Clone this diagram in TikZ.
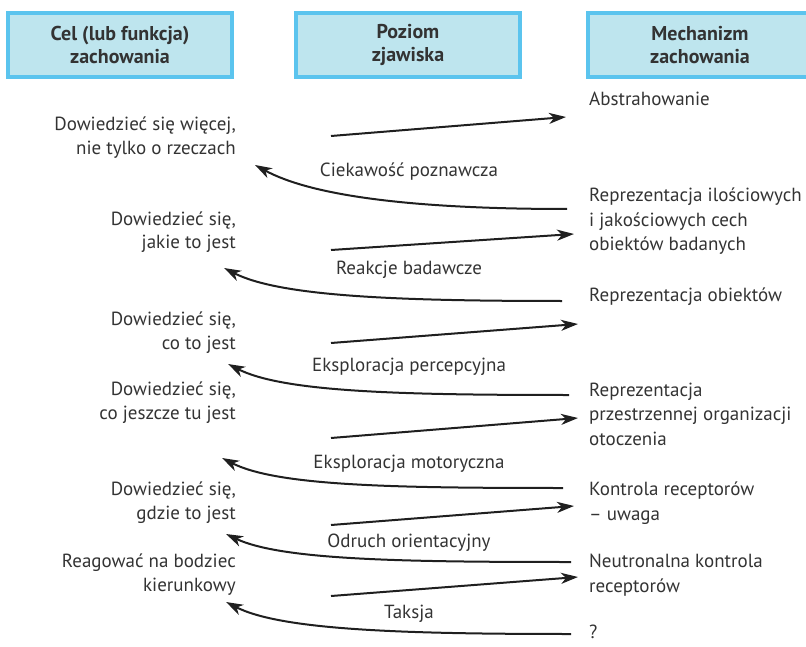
\documentclass[tikz,border=0pt]{standalone}
\usepackage{fontspec}
\setmainfont{PT Sans}
\usetikzlibrary{arrows.meta}
\definecolor{boxfill}{HTML}{BEE5EE}
\definecolor{boxline}{HTML}{5BC4EE}
\definecolor{ink}{HTML}{333333}
\tikzstyle{Header}=[minimum width=224, minimum height=64, fill=boxfill, line width=4.5, draw=boxline, align=center, text=ink, font=\fontsize{20}{23}\selectfont\bfseries]
\tikzstyle{Goal}=[anchor=base east, align=right, inner sep=0, text=ink, font=\fontsize{19}{24}\selectfont]
\tikzstyle{Mechanism}=[anchor=base west, align=left, inner sep=0, text=ink, font=\fontsize{19}{24.5}\selectfont]
\tikzstyle{Level}=[anchor=base, inner sep=0, text=ink, font=\fontsize{19}{24}\selectfont]
\tikzstyle{forward}=[-{Stealth[length=17, width=11, inset=5]}, line width=2, draw=black!88]
\tikzstyle{backward}=[-{Stealth[length=17, width=11, inset=5]}, line width=2, draw=black!88]
\pgfdeclarelayer{nodelayer}
\pgfdeclarelayer{edgelayer}
\pgfsetlayers{nodelayer, edgelayer}

\begin{document}
\begin{tikzpicture}[x=1pt, y=-1pt]
	\useasboundingbox (0,0) rectangle (806,647);
	\begin{pgfonlayer}{nodelayer}
		% column headers
		\node [style=Header] (goalhead) at (120, 45) {Cel (lub funkcja)\\zachowania};
		\node [style=Header] (levelhead) at (408, 45) {Poziom\\zjawiska};
		\node [style=Header] (mechhead) at (700, 45) {Mechanizm\\zachowania};

		% goals (anchored at the last line)
		\node [style=Goal] (learnmore) at (236, 155) {Dowiedzieć się więcej,\\nie tylko o rzeczach};
		\node [style=Goal] (whatlike) at (236, 249) {Dowiedzieć się,\\jakie to jest};
		\node [style=Goal] (whatis) at (236, 349) {Dowiedzieć się,\\co to jest};
		\node [style=Goal] (whatelse) at (236, 419) {Dowiedzieć się,\\co jeszcze tu jest};
		\node [style=Goal] (where) at (236, 519) {Dowiedzieć się,\\gdzie to jest};
		\node [style=Goal] (react) at (236, 591) {Reagować na bodziec\\kierunkowy};

		% mechanisms
		\node [style=Mechanism] (abstract) at (589, 106) {Abstrahowanie};
		\node [style=Mechanism] (features) at (589, 251) {Reprezentacja ilościowych\\i jakościowych cech\\obiektów badanych};
		\node [style=Mechanism] (objects) at (589, 301) {Reprezentacja obiektów};
		\node [style=Mechanism] (space) at (589, 445) {Reprezentacja\\przestrzennej organizacji\\otoczenia};
		\node [style=Mechanism] (attention) at (589, 520) {Kontrola receptorów\\– uwaga};
		\node [style=Mechanism] (neural) at (589, 592) {Neutronalna kontrola\\receptorów};
		\node [style=Mechanism] (unknown) at (589, 638) {?};

		% levels
		\node [style=Level] (curiosity) at (409, 177) {Ciekawość poznawcza};
		\node [style=Level] (probing) at (409, 275) {Reakcje badawcze};
		\node [style=Level] (perceptual) at (409, 371) {Eksploracja percepcyjna};
		\node [style=Level] (motor) at (409, 468) {Eksploracja motoryczna};
		\node [style=Level] (orienting) at (409, 547) {Odruch orientacyjny};
		\node [style=Level] (taxis) at (409, 618) {Taksja};
	\end{pgfonlayer}
	\begin{pgfonlayer}{edgelayer}
		% arrow ends
		\coordinate (f1s) at (331, 136); \coordinate (f1e) at (566, 117);
		\coordinate (f2s) at (331, 250); \coordinate (f2e) at (574, 234);
		\coordinate (f3s) at (331, 343); \coordinate (f3e) at (578, 324);
		\coordinate (f4s) at (331, 438); \coordinate (f4e) at (578, 418);
		\coordinate (f5s) at (331, 525); \coordinate (f5e) at (574, 506);
		\coordinate (f6s) at (331, 596); \coordinate (f6e) at (578, 577);
		\coordinate (b1s) at (567, 209); \coordinate (b1e) at (255, 165);
		\coordinate (b2s) at (562, 301); \coordinate (b2e) at (224, 268);
		\coordinate (b3s) at (569, 395); \coordinate (b3e) at (228, 364);
		\coordinate (b4s) at (563, 488); \coordinate (b4e) at (222, 458);
		\coordinate (b5s) at (571, 562); \coordinate (b5e) at (226, 534);
		\coordinate (b6s) at (571, 634); \coordinate (b6e) at (226, 602);

		\draw [style=forward] (f1s) to (f1e);
		\draw [style=forward] (f2s) to (f2e);
		\draw [style=forward] (f3s) to (f3e);
		\draw [style=forward] (f4s) to (f4e);
		\draw [style=forward] (f5s) to (f5e);
		\draw [style=forward] (f6s) to (f6e);

		\draw [style=backward] (b1s) .. controls +(-160, 0) and +(55, 30) .. (b1e);
		\draw [style=backward] (b2s) .. controls +(-170, 0) and +(55, 28) .. (b2e);
		\draw [style=backward] (b3s) .. controls +(-170, 0) and +(55, 28) .. (b3e);
		\draw [style=backward] (b4s) .. controls +(-170, 0) and +(55, 28) .. (b4e);
		\draw [style=backward] (b5s) .. controls +(-170, 0) and +(55, 26) .. (b5e);
		\draw [style=backward] (b6s) .. controls +(-170, 0) and +(55, 28) .. (b6e);
	\end{pgfonlayer}
\end{tikzpicture}
\end{document}
